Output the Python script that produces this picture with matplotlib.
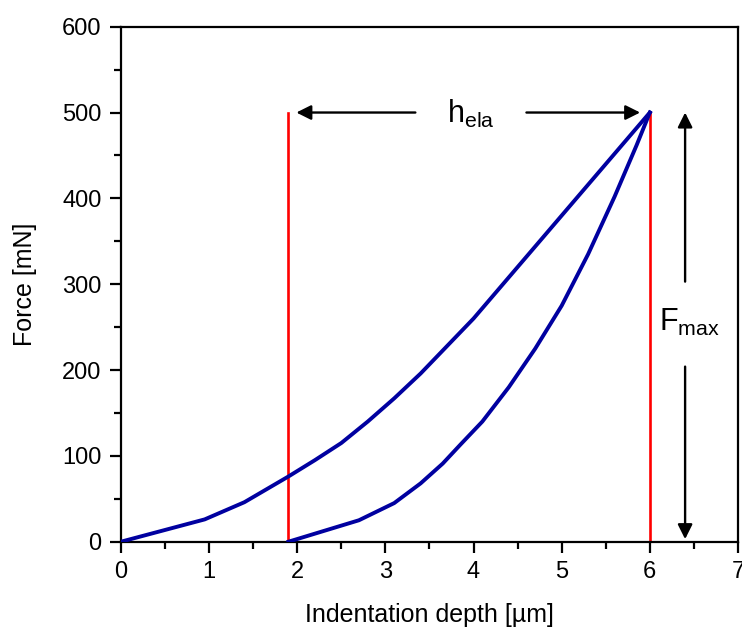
import numpy as np
import matplotlib
matplotlib.use("Agg")
from matplotlib import pyplot as plt
from matplotlib.ticker import MultipleLocator

plt.rcParams['font.family'] = ['Liberation Sans', 'DejaVu Sans']
plt.rcParams['mathtext.fontset'] = 'custom'
plt.rcParams['mathtext.rm'] = 'Liberation Sans'

# loading curve (depth in um, force in mN)
load_depth = [0.0, 0.95, 1.4, 1.9, 2.2, 2.5, 2.8, 3.1, 3.4, 3.7, 4.0, 4.5, 5.0, 5.5, 6.0]
load_force = [0, 26, 46, 76, 95, 115, 140, 167, 196, 228, 260, 320, 380, 440, 500]

# unloading curve
unload_depth = [1.9, 2.7, 3.1, 3.4, 3.65, 3.85, 4.1, 4.4, 4.7, 5.0, 5.3, 5.6, 5.85, 6.0]
unload_force = [0, 25, 45, 68, 91, 113, 140, 180, 225, 275, 335, 402, 462, 500]

h_res = 1.9
h_max = 6.0
f_max = 500

fig = plt.figure(figsize=(7.42, 6.28), dpi=100)
ax = fig.add_axes([0.163, 0.1374, 0.8316, 0.8201])

blue = '#0000a0'
ax.plot(load_depth, load_force, color=blue, lw=2.8, solid_joinstyle='round', zorder=3)
ax.plot(unload_depth, unload_force, color=blue, lw=2.8, solid_joinstyle='round', zorder=3)

# red vertical markers
ax.plot([h_res, h_res], [0, f_max], color='red', lw=1.9, zorder=2)
ax.plot([h_max, h_max], [0, f_max], color='red', lw=1.9, zorder=2)

arrow = dict(arrowstyle='-|>', color='black', lw=1.7, mutation_scale=22, shrinkA=0, shrinkB=0)

# h_ela arrows
ax.annotate('', xy=(1.99, f_max), xytext=(3.34, f_max), arrowprops=arrow)
ax.annotate('', xy=(5.89, f_max), xytext=(4.6, f_max), arrowprops=arrow)
ax.text(3.97, 498, r'h$_{\mathrm{ela}}$', fontsize=22, ha='center', va='center')

# F_max arrows
ax.annotate('', xy=(6.4, 500), xytext=(6.4, 303), arrowprops=arrow)
ax.annotate('', xy=(6.4, 3), xytext=(6.4, 204), arrowprops=arrow)
ax.text(6.1, 256, r'F$_{\mathrm{max}}$', fontsize=22, ha='left', va='center')

ax.set_xlim(0, 7)
ax.set_ylim(0, 600)
ax.xaxis.set_major_locator(MultipleLocator(1))
ax.xaxis.set_minor_locator(MultipleLocator(0.5))
ax.yaxis.set_major_locator(MultipleLocator(100))
ax.yaxis.set_minor_locator(MultipleLocator(50))
ax.tick_params(which='major', direction='out', length=8, width=1.6, labelsize=17, pad=6)
ax.tick_params(which='minor', direction='out', length=5, width=1.6)
ax.tick_params(top=False, right=False)
for s in ax.spines.values():
    s.set_linewidth(1.6)

ax.set_xlabel('Indentation depth [µm]', fontsize=18, labelpad=14)
ax.set_ylabel('Force [mN]', fontsize=18, labelpad=18)

plt.savefig('out.png', dpi=100)
